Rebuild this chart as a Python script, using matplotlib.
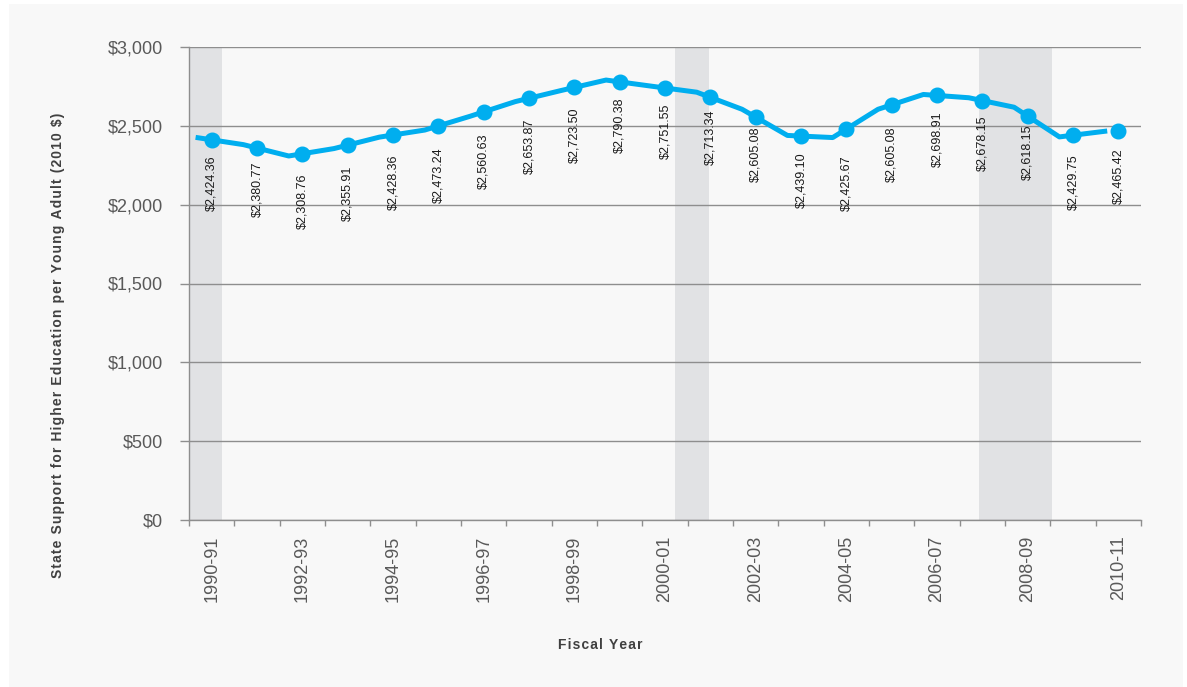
import numpy as np
import matplotlib.pyplot as plt
from matplotlib.patches import Rectangle
from matplotlib.ticker import FuncFormatter

plt.rcParams['font.family'] = ['Liberation Sans', 'DejaVu Sans']

years = ['1990-91', '1991-92', '1992-93', '1993-94', '1994-95', '1995-96',
         '1996-97', '1997-98', '1998-99', '1999-00', '2000-01', '2001-02',
         '2002-03', '2003-04', '2004-05', '2005-06', '2006-07', '2007-08',
         '2008-09', '2009-10', '2010-11']
support = [2424.36, 2380.77, 2308.76, 2355.91, 2428.36, 2473.24, 2560.63,
           2653.87, 2723.50, 2790.38, 2751.55, 2713.34, 2605.08, 2439.10,
           2425.67, 2605.08, 2698.91, 2678.15, 2618.15, 2429.75, 2465.42]
# recessions, in fiscal-year units counted from July 1990
recessions = [(0.0, 0.72), (10.73, 11.46), (17.43, 19.03)]

blue = '#00aeef'
grey_txt = '#595959'
grid_c = '#8e8e8e'


def spaced(s):
    # loose tracking for the axis titles
    return '\u200a'.join(s)


fig = plt.figure(figsize=(11.87, 6.87), dpi=100, facecolor='white')
fig.patches.append(Rectangle((9 / 1187, 0), 1174 / 1187, 683 / 687,
                             transform=fig.transFigure, facecolor='#f8f8f8',
                             edgecolor='none', zorder=-10))
ax = fig.add_axes([189 / 1187, 167 / 687, 952 / 1187, 473 / 687])
ax.set_facecolor('none')

for a, b in recessions:
    ax.axvspan(a, b, color='#e1e2e4', lw=0, zorder=0)

x = np.arange(len(years)) + 0.5
vals = np.array(support)
# the line is drawn a little to the left of the category centres
line_x = x - 0.3
ax.plot(line_x, vals, color=blue, lw=3.6, solid_joinstyle='round', zorder=3)
marker_y = np.interp(x, line_x, vals)
ax.plot(x, marker_y, 'o', color=blue, ms=10.5, zorder=4)

for xi, v in zip(x, vals):
    ax.annotate(f'${v:,.2f}', (xi, v), xytext=(0, -12.5), textcoords='offset points',
                rotation=90, ha='center', va='top', fontsize=9, color='#1a1a1a', zorder=5)

ax.set_xlim(0, len(years))
ax.set_ylim(0, 3000)
ax.set_yticks(np.arange(0, 3001, 500))
ax.yaxis.set_major_formatter(FuncFormatter(lambda v, p: f'${v:,.0f}'))
ax.grid(axis='y', color=grid_c, lw=1, zorder=1)
ax.set_axisbelow(True)

ax.set_xticks(np.arange(len(years) + 1))
ax.set_xticklabels([])
ax.set_xticks(x[::2], minor=True)
ax.set_xticklabels(years[::2], minor=True, rotation=90)
ax.tick_params(axis='x', which='major', length=4, width=1, color=grid_c)
ax.tick_params(axis='x', which='minor', length=0, pad=11, labelsize=13, labelcolor=grey_txt)
ax.tick_params(axis='y', length=6.5, width=1, color=grid_c, pad=12, labelsize=13,
               labelcolor=grey_txt)

for s in ['top', 'right']:
    ax.spines[s].set_visible(False)
for s in ['left', 'bottom']:
    ax.spines[s].set_color(grid_c)
    ax.spines[s].set_linewidth(1)

fig.text(600 / 1187, 1 - 645 / 687, spaced('Fiscal Year'), ha='center', va='center',
         fontsize=10, fontweight='bold', color='#404040')
fig.text(58 / 1187, 1 - 345 / 687,
         spaced('State Support for Higher Education per Young Adult (2010 $)'),
         ha='center', va='center', rotation=90, fontsize=10, fontweight='bold',
         color='#404040')

fig.savefig('out.png', dpi=100, facecolor=fig.get_facecolor())
